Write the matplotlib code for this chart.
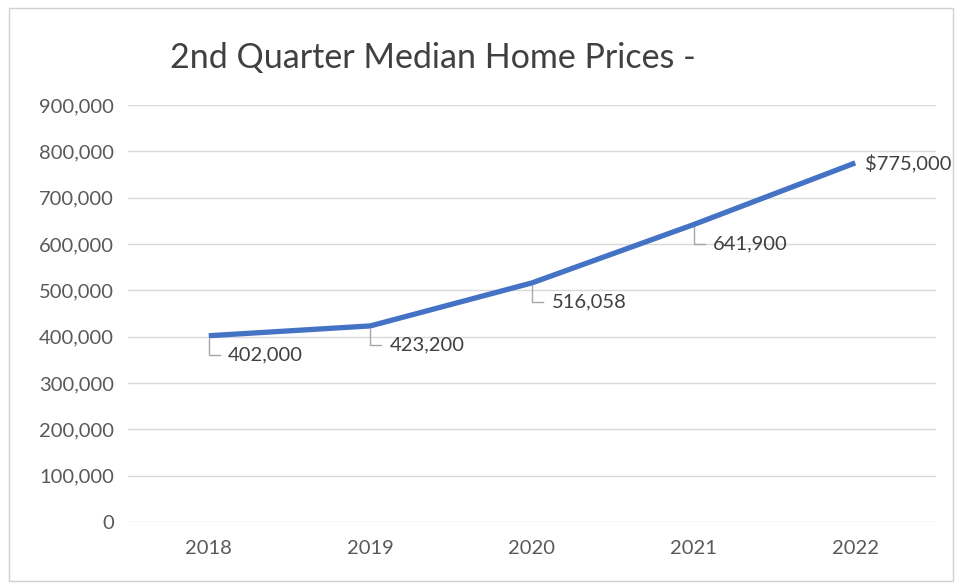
import matplotlib
matplotlib.use("Agg")
import matplotlib.pyplot as plt
import matplotlib.transforms as mtrans
from matplotlib.lines import Line2D
from matplotlib.ticker import FuncFormatter
from matplotlib.patches import Rectangle

years = ["2018", "2019", "2020", "2021", "2022"]
prices = [402000, 423200, 516058, 641900, 775000]
labels = ["402,000", "423,200", "516,058", "641,900", "$775,000"]
yticks = [0, 100000, 200000, 300000, 400000, 500000, 600000, 700000, 800000, 900000]

plt.rcParams['font.family'] = ['Lato', 'DejaVu Sans']

fig = plt.figure(figsize=(9.62, 5.84), dpi=100)
fig.patch.set_facecolor('white')
ax = fig.add_axes([0.133, 0.1062, 0.840, 0.714])

x = list(range(len(years)))
for v in yticks:
    ax.axhline(v, color='#d9d9d9', lw=1.0, zorder=0)
ax.plot(x, prices, color='#4472C4', lw=3.8, solid_capstyle='butt', zorder=3)

ax.set_xlim(-0.5, len(years) - 0.5)
ax.set_ylim(0, 900000)
ax.set_xticks(x)
ax.set_xticklabels(years)
ax.set_yticks(yticks)
ax.yaxis.set_major_formatter(FuncFormatter(lambda v, p: f"{int(v):,}"))
ax.tick_params(axis='both', length=0, labelsize=14.5, colors='#595959')
ax.tick_params(axis='x', pad=13)
ax.tick_params(axis='y', pad=10)
for s in ax.spines.values():
    s.set_visible(False)

for i, (v, lab) in enumerate(zip(prices, labels)):
    if i == len(prices) - 1:
        ax.annotate(lab, (i, v), xytext=(7, 0), textcoords='offset points',
                    ha='left', va='center', fontsize=14.5, color='#404040')
    else:
        dy = -14
        ax.annotate(lab, (i, v), xytext=(14, dy), textcoords='offset points',
                    ha='left', va='center', fontsize=14.5, color='#404040',
                    zorder=4)
        trans = mtrans.Affine2D().scale(fig.dpi / 72.0) + \
            mtrans.Affine2D().translate(*ax.transData.transform((i, v)))
        l = Line2D([0, 0, 8], [-2, dy, dy], color='#a6a6a6', lw=1.0,
                   transform=trans, zorder=2)
        ax.add_line(l)

fig.text(0.177, 0.900, "2nd Quarter Median Home Prices -", fontsize=24.5,
         color='#404040', ha='left', va='center')

fig.patches.append(Rectangle((0.009, 0.005), 0.982, 0.982, transform=fig.transFigure,
                             fill=False, edgecolor='#d0d0d0', lw=1.0))

fig.savefig("out.png", dpi=100)
